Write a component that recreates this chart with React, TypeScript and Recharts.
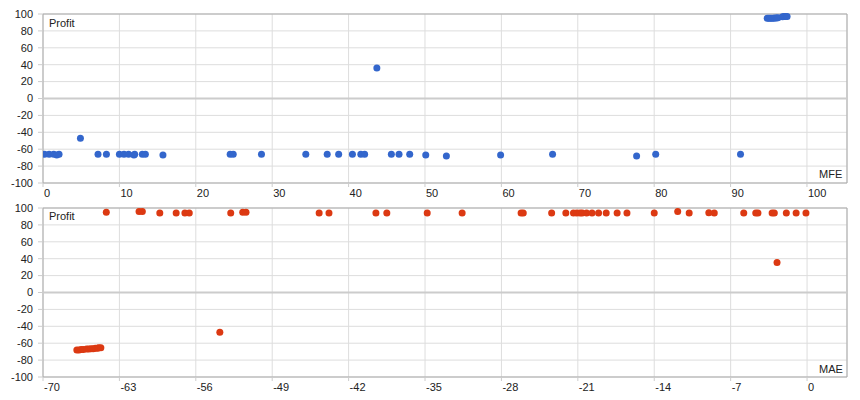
import { ScatterChart, Scatter, XAxis, YAxis, CartesianGrid, ReferenceArea, ReferenceLine } from 'recharts';

// Profit against maximum favourable / adverse excursion, one point per trade
const profitTicks = [-100, -80, -60, -40, -20, 0, 20, 40, 60, 80, 100];
const mfeTicks = [0, 10, 20, 30, 40, 50, 60, 70, 80, 90, 100];
const maeTicks = [-70, -63, -56, -49, -42, -35, -28, -21, -14, -7, 0];

const mfePoints = [
  { x: 0.2, y: -66 }, { x: 0.8, y: -66 }, { x: 1.4, y: -66 }, { x: 1.8, y: -67 }, { x: 2.1, y: -66 },
  { x: 4.9, y: -47 }, { x: 7.2, y: -66 }, { x: 8.3, y: -66 }, { x: 10.0, y: -66 }, { x: 10.6, y: -66 },
  { x: 11.2, y: -66 }, { x: 11.9, y: -67 }, { x: 12.0, y: -66 }, { x: 13.0, y: -66 }, { x: 13.4, y: -66 },
  { x: 15.7, y: -67 }, { x: 24.5, y: -66 }, { x: 24.9, y: -66 }, { x: 28.6, y: -66 }, { x: 34.4, y: -66 },
  { x: 37.2, y: -66 }, { x: 38.7, y: -66 }, { x: 40.5, y: -66 }, { x: 41.6, y: -66 }, { x: 42.1, y: -66 },
  { x: 43.7, y: 36 }, { x: 45.6, y: -66 }, { x: 46.6, y: -66 }, { x: 48.0, y: -66 }, { x: 50.1, y: -67 },
  { x: 52.8, y: -68 }, { x: 59.9, y: -67 }, { x: 66.7, y: -66 }, { x: 77.7, y: -68 }, { x: 80.2, y: -66 },
  { x: 91.3, y: -66 }, { x: 94.8, y: 95 }, { x: 95.0, y: 95 }, { x: 95.2, y: 95 }, { x: 95.4, y: 95 },
  { x: 95.6, y: 95 }, { x: 95.8, y: 95.3 }, { x: 96.0, y: 95.3 }, { x: 96.2, y: 95.5 }, { x: 96.8, y: 96.8 },
  { x: 97.0, y: 97 }, { x: 97.2, y: 97 }, { x: 97.4, y: 97 },
];

const maePoints = [
  { x: -66.9, y: -68 }, { x: -66.7, y: -68 }, { x: -66.5, y: -67.5 }, { x: -66.3, y: -67.5 }, { x: -66.0, y: -67 },
  { x: -65.8, y: -67 }, { x: -65.6, y: -66.5 }, { x: -65.4, y: -66.5 }, { x: -65.2, y: -66 }, { x: -65.0, y: -66 },
  { x: -64.9, y: -65.5 }, { x: -64.7, y: -65.5 },
  { x: -64.2, y: 95 }, { x: -61.2, y: 96 }, { x: -60.9, y: 96 }, { x: -59.3, y: 94 }, { x: -57.8, y: 94 },
  { x: -57.0, y: 94 }, { x: -56.6, y: 94 }, { x: -53.8, y: -47 }, { x: -52.8, y: 94 }, { x: -51.7, y: 95 },
  { x: -51.4, y: 95 }, { x: -44.7, y: 94 }, { x: -43.8, y: 94 }, { x: -39.5, y: 94 }, { x: -38.5, y: 94 },
  { x: -34.8, y: 94 }, { x: -31.6, y: 94 }, { x: -26.2, y: 94 }, { x: -26.0, y: 94 }, { x: -23.4, y: 94 },
  { x: -22.1, y: 94 }, { x: -21.4, y: 94 }, { x: -21.1, y: 94 }, { x: -20.8, y: 94 }, { x: -20.6, y: 94 },
  { x: -20.2, y: 94 }, { x: -19.7, y: 94 }, { x: -19.1, y: 94 }, { x: -18.4, y: 94 }, { x: -17.4, y: 94 },
  { x: -16.5, y: 94 }, { x: -14.0, y: 94 }, { x: -11.85, y: 96 }, { x: -10.8, y: 94 }, { x: -9.0, y: 94.5 },
  { x: -8.5, y: 94 }, { x: -5.8, y: 94 }, { x: -4.7, y: 94 }, { x: -4.5, y: 94 }, { x: -3.2, y: 94 },
  { x: -3.0, y: 94 }, { x: -2.75, y: 35.5 }, { x: -1.9, y: 94 }, { x: -1.0, y: 94 }, { x: -0.1, y: 94 },
];

const font = 'Arial, "Liberation Sans", sans-serif';

const XTick = (props: any) => {
  const { x, y, payload } = props;
  return (
    <text x={x + 1} y={y} dy="0.71em" textAnchor="start" fontSize={11} fontFamily={font} fill="#222">
      {payload.value}
    </text>
  );
};

const YTick = (props: any) => {
  const { x, y, payload } = props;
  return (
    <text x={x} y={y} dy="0.35em" textAnchor="end" fontSize={11} fontFamily={font} fill="#222">
      {payload.value}
    </text>
  );
};

type PanelProps = {
  data: { x: number; y: number }[];
  xDomain: [number, number];
  xTicks: number[];
  color: string;
  top: number;
  bottom: number;
};

const Panel = ({ data, xDomain, xTicks, color, top, bottom }: PanelProps) => (
  <ScatterChart width={860} height={200} margin={{ top, right: 13, left: 0, bottom: 0 }}>
    <CartesianGrid stroke="#ddd" />
    <XAxis
      type="number"
      dataKey="x"
      domain={xDomain}
      ticks={xTicks}
      interval={0}
      allowDataOverflow
      height={bottom}
      axisLine={false}
      tickSize={4}
      tickMargin={2}
      tickLine={{ stroke: '#ccc' }}
      tick={<XTick />}
    />
    <YAxis
      type="number"
      dataKey="y"
      domain={[-100, 100]}
      ticks={profitTicks}
      interval={0}
      width={43}
      axisLine={false}
      tickSize={5}
      tickMargin={5}
      tickLine={{ stroke: '#ccc' }}
      tick={<YTick />}
    />
    <ReferenceLine y={0} stroke="#ccc" strokeWidth={2} />
    <ReferenceArea x1={xDomain[0]} x2={xDomain[1]} y1={-100} y2={100} fill="none" stroke="#aaa" strokeOpacity={1} />
    <Scatter
      data={data}
      fill={color}
      isAnimationActive={false}
      shape={(p: any) => <circle cx={p.cx} cy={p.cy} r={3.5} fill={color} />}
    />
  </ScatterChart>
);

const labelStyle = { position: 'absolute' as const, fontSize: 11, fontFamily: font, color: '#222', lineHeight: '13px' };

export default function App() {
  return (
    <div style={{ position: 'absolute', left: 0, top: 0, width: 860, height: 400, background: '#fff' }}>
      <div style={{ position: 'absolute', left: 0, top: 0 }}>
        <Panel data={mfePoints} xDomain={[0, 105.24]} xTicks={mfeTicks} color="#3366cc" top={14} bottom={17} />
      </div>
      <div style={{ position: 'absolute', left: 0, top: 200 }}>
        <Panel data={maePoints} xDomain={[-70, 3.66]} xTicks={maeTicks} color="#dc3912" top={8} bottom={23} />
      </div>
      <div style={{ ...labelStyle, left: 49, top: 17 }}>Profit</div>
      <div style={{ ...labelStyle, left: 819, top: 168 }}>MFE</div>
      <div style={{ ...labelStyle, left: 49, top: 210 }}>Profit</div>
      <div style={{ ...labelStyle, left: 819, top: 363 }}>MAE</div>
    </div>
  );
}
